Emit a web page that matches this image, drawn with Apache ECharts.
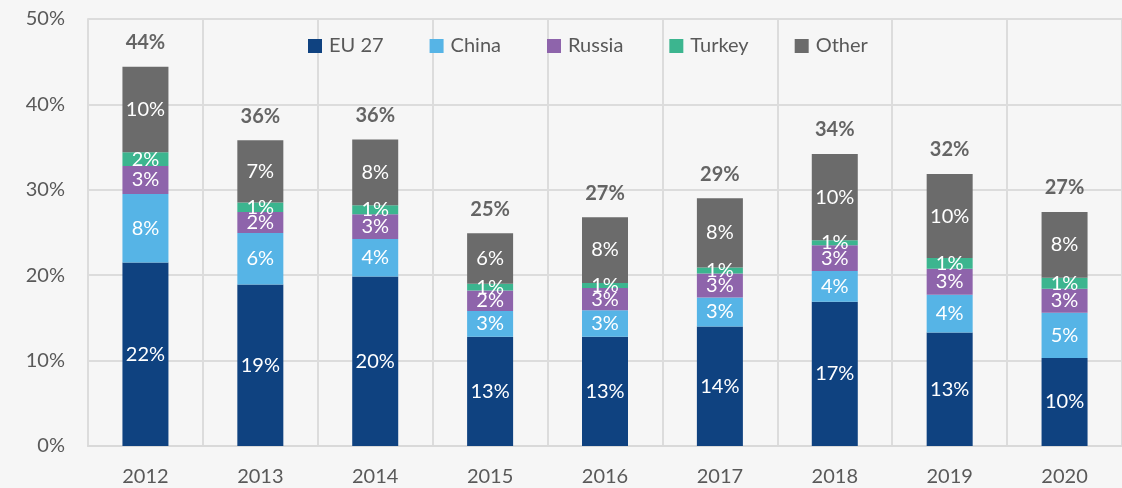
<!DOCTYPE html>
<html>
<head>
<meta charset="utf-8">
<script src="https://cdn.jsdelivr.net/npm/echarts@6/dist/echarts.min.js"></script>
<style>
html,body{margin:0;padding:0;background:#f6f6f6;}
#c{width:1122px;height:488px;}
</style>
</head>
<body>
<div id="c"></div>
<script>
const years = ['2012','2013','2014','2015','2016','2017','2018','2019','2020'];
const seriesNames = ['EU 27','China','Russia','Turkey','Other'];
const eu27   = [21.5, 18.9, 19.85, 12.8, 12.8, 14.0, 16.9, 13.3, 10.3];
const china  = [8.0, 6.05, 4.4, 3.0, 3.1, 3.4, 3.6, 4.4, 5.3];
const russia = [3.3, 2.45, 2.9, 2.4, 2.6, 2.8, 3.0, 3.05, 2.8];
const turkey = [1.6, 1.1, 1.05, 0.8, 0.6, 0.7, 0.6, 1.25, 1.3];
const other  = [10.0, 7.3, 7.7, 5.9, 7.7, 8.1, 10.1, 9.85, 7.7];
const yTicks = [0, 10, 20, 30, 40, 50];
const colors = ['#0f4280', '#56b4e6', '#8e64ab', '#3cb58f', '#6b6b6b'];

const values = [eu27, china, russia, turkey, other];
const totals = years.map((_, i) => values.reduce((s, arr) => s + arr[i], 0));

const FONT = 'Lato';
const chart = echarts.init(document.getElementById('c'));
const barSeries = seriesNames.map((name, k) => ({
  name: name,
  type: 'bar',
  stack: 'total',
  barWidth: 46,
  data: values[k],
  itemStyle: { color: colors[k] },
  label: {
    show: true,
    position: 'inside',
    color: '#ffffff',
    fontFamily: FONT,
    fontSize: 20,
    formatter: p => Math.round(p.value) + '%'
  },
  emphasis: { disabled: true }
}));

barSeries.push({
  name: 'Total',
  type: 'scatter',
  data: totals,
  symbolSize: 0,
  silent: true,
  label: {
    show: true,
    position: 'top',
    distance: 14,
    color: '#404040',
    fontFamily: FONT,
    fontWeight: 'bold',
    fontSize: 20,
    formatter: p => Math.round(p.value) + '%'
  },
  z: 5
});

chart.setOption({
  backgroundColor: '#f6f6f6',
  animation: false,
  textStyle: { fontFamily: FONT },
  legend: {
    data: seriesNames,
    left: 303,
    top: 31,
    itemWidth: 14,
    itemHeight: 14,
    itemGap: 46,
    icon: 'rect',
    textStyle: { color: '#595959', fontSize: 20, fontFamily: FONT, padding: [0, 0, 0, 2] }
  },
  grid: { left: 88, top: 19, width: 1040, height: 427, containLabel: false },
  xAxis: {
    type: 'category',
    data: years,
    boundaryGap: true,
    axisLine: { show: true, lineStyle: { color: '#d9d9d9', width: 2 } },
    axisTick: { show: false },
    splitLine: { show: true, lineStyle: { color: '#dcdcdc', width: 2 } },
    axisLabel: { color: '#595959', fontSize: 20, fontFamily: FONT, margin: 21 }
  },
  yAxis: {
    type: 'value',
    min: yTicks[0],
    max: yTicks[yTicks.length - 1],
    interval: 10,
    axisLine: { show: true, lineStyle: { color: '#dcdcdc', width: 2 } },
    axisTick: { show: false },
    splitLine: { show: true, lineStyle: { color: '#dcdcdc', width: 2 } },
    axisLabel: { color: '#595959', fontSize: 20, fontFamily: FONT, margin: 23, formatter: v => v + '%' }
  },
  series: barSeries
});
</script>
</body>
</html>
